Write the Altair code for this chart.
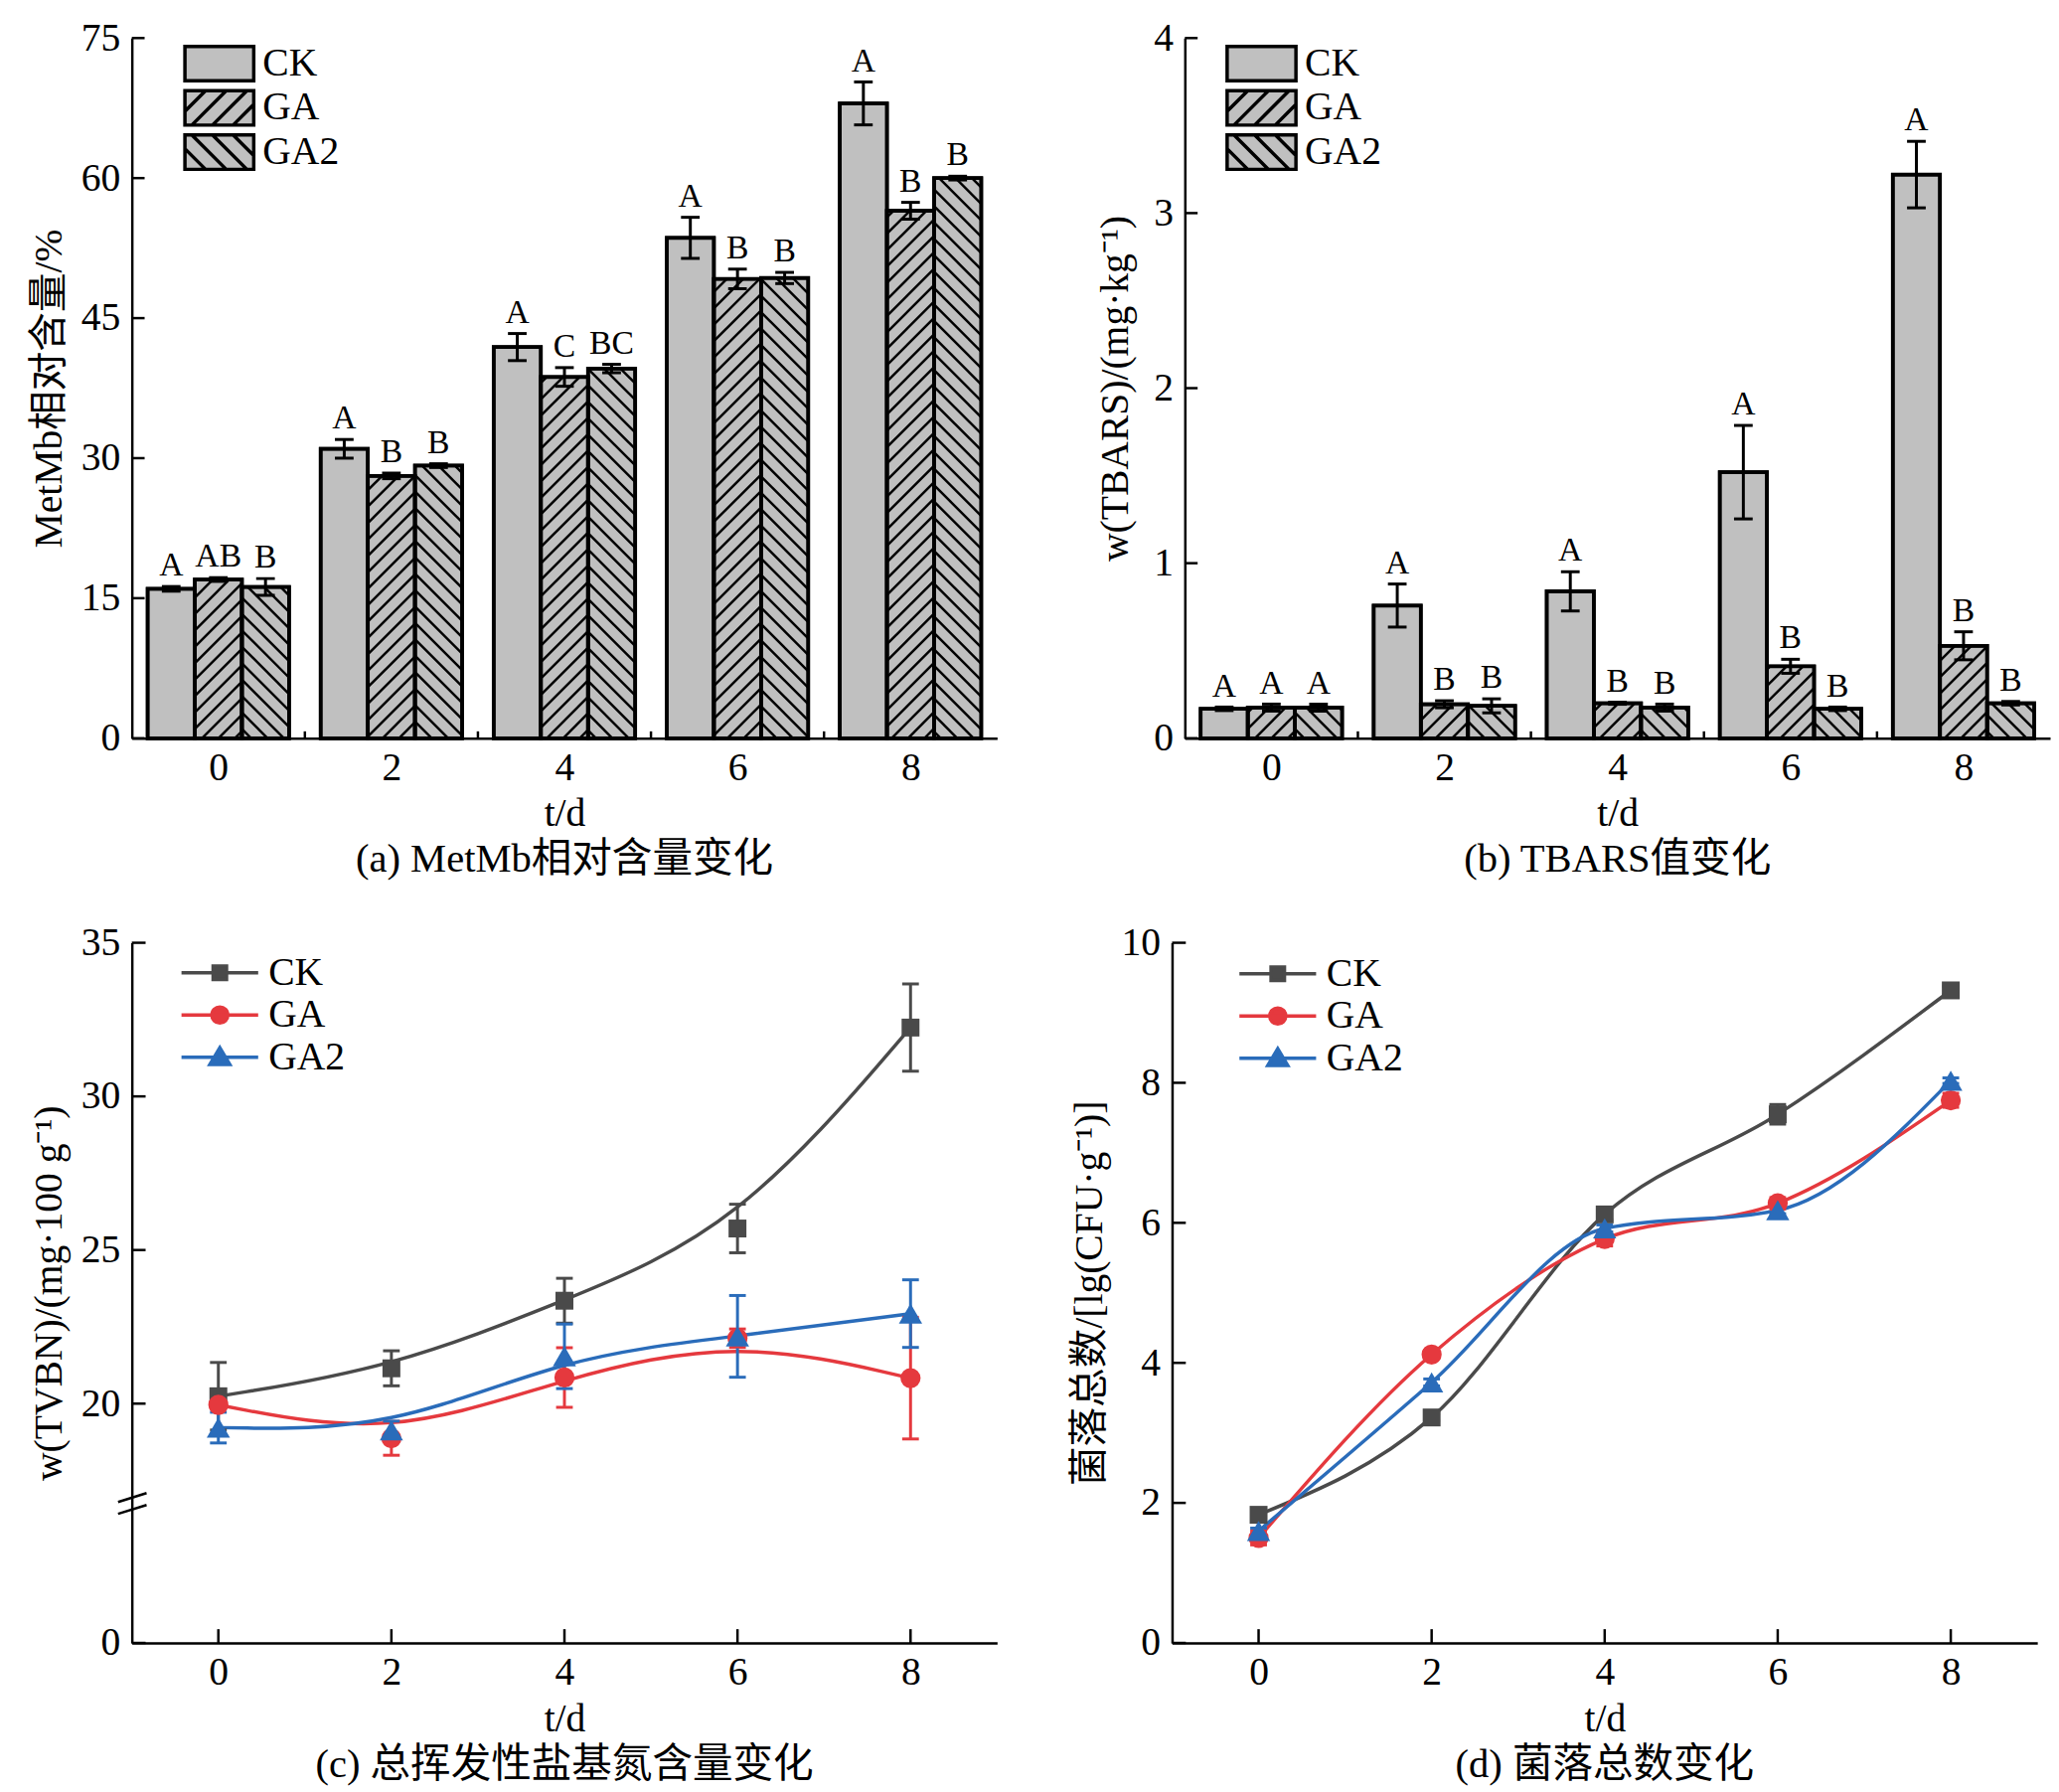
import altair as alt
import pandas as pd
import numpy as np

# ---------------- data ----------------
days = [0, 2, 4, 6, 8]
groups = ["CK", "GA", "GA2"]

# (a) MetMb relative content (%)
metmb_ck = [16.0, 31.0, 41.9, 53.6, 68.0]
metmb_ga = [17.0, 28.1, 38.7, 49.2, 56.5]
metmb_ga2 = [16.2, 29.2, 39.6, 49.3, 60.0]
metmb_ck_err = [0.25, 1.0, 1.45, 2.2, 2.3]
metmb_ga_err = [0.2, 0.3, 1.0, 1.05, 0.9]
metmb_ga2_err = [0.9, 0.2, 0.45, 0.6, 0.2]
metmb_ck_sig = ["A", "A", "A", "A", "A"]
metmb_ga_sig = ["AB", "B", "C", "B", "B"]
metmb_ga2_sig = ["B", "B", "BC", "B", "B"]

# (b) TBARS (mg/kg)
tbars_ck = [0.168, 0.758, 0.839, 1.52, 3.22]
tbars_ga = [0.175, 0.194, 0.20, 0.411, 0.528]
tbars_ga2 = [0.175, 0.185, 0.175, 0.168, 0.20]
tbars_ck_err = [0.01, 0.123, 0.112, 0.267, 0.19]
tbars_ga_err = [0.02, 0.02, 0.006, 0.04, 0.08]
tbars_ga2_err = [0.02, 0.04, 0.02, 0.01, 0.01]
tbars_ck_sig = ["A", "A", "A", "A", "A"]
tbars_ga_sig = ["A", "B", "B", "B", "B"]
tbars_ga2_sig = ["A", "B", "B", "B", "B"]

# (c) TVB-N (mg/100 g)
tvbn_ck = [20.24, 21.15, 23.35, 25.7, 32.24]
tvbn_ga = [19.96, 18.87, 20.85, 22.13, 20.83]
tvbn_ga2 = [19.22, 19.13, 21.54, 22.19, 22.93]
tvbn_ck_err = [1.1, 0.57, 0.73, 0.79, 1.42]
tvbn_ga_err = [0.12, 0.55, 0.97, 0.3, 1.98]
tvbn_ga2_err = [0.5, 0.3, 1.05, 1.33, 1.1]

# (d) total colony count lg(CFU/g)
tvc_ck = [1.83, 3.22, 6.12, 7.55, 9.32]
tvc_ga = [1.5, 4.12, 5.77, 6.28, 7.75]
tvc_ga2 = [1.6, 3.72, 5.92, 6.18, 8.03]
tvc_ck_err = [0.05, 0.05, 0.08, 0.14, 0.06]
tvc_ga_err = [0.1, 0.06, 0.1, 0.08, 0.1]
tvc_ga2_err = [0.04, 0.05, 0.05, 0.05, 0.04]

# ---------------- style ----------------
FONT = "Liberation Serif, Noto Sans CJK SC"
W, H = 880, 712
GRAY = "#c0c0c0"
BW = 0.545
XDOM = [-1, 9]
PXX = W / (XDOM[1] - XDOM[0])
HATCH_S = 16.7
LINE_COLORS = ["#4a4a4a", "#e5393e", "#2a6cba"]
MARKERS = ["square", "circle", "triangle-up"]
MARKER_SIZES = [330, 420, 560]


def fmt(v):
    return f"{v:.3f}".rstrip("0").rstrip(".")


def hatch_path(direction):
    p = "M-2,-1H2V1H-2Z"
    for c in [-1.8, -0.6, 0.6, 1.8]:
        lo, hi = max(-2, c - 1), min(2, c + 1)
        if direction == "/":
            p += f"M{fmt(lo)},{fmt(c - lo)}L{fmt(hi)},{fmt(c - hi)}"
        else:
            p += f"M{fmt(lo)},{fmt(lo - c)}L{fmt(hi)},{fmt(hi - c)}"
    return p


BAR_PATHS = ["M-2,-1H2V1H-2Z", hatch_path("/"), hatch_path("\\")]
LINE_PATHS = [
    "M-2,0H2M-0.35,-0.35H0.35V0.35H-0.35Z",
    "M-2,0H2M0.42,0A0.42,0.42,0,1,1,-0.42,0A0.42,0.42,0,1,1,0.42,0Z",
    "M-2,0H2M0,-0.5L0.52,0.37L-0.52,0.37Z",
]


def hatch_segments(xl, xr, v, pxy, direction):
    Xl, Xr, Hb = xl * PXX, xr * PXX, v * pxy
    segs = []
    if direction == "/":
        kmin = int(np.floor(-Xr / HATCH_S)) - 1
        kmax = int(np.ceil((Hb - Xl) / HATCH_S)) + 1
        for k in range(kmin, kmax + 1):
            c = k * HATCH_S
            lo, hi = max(Xl, -c), min(Xr, Hb - c)
            if hi - lo > 1.5:
                segs.append((lo / PXX, (lo + c) / pxy, hi / PXX, (hi + c) / pxy))
    else:
        kmin = int(np.floor(Xl / HATCH_S)) - 1
        kmax = int(np.ceil((Xr + Hb) / HATCH_S)) + 1
        for k in range(kmin, kmax + 1):
            c = k * HATCH_S
            lo, hi = max(Xl, c - Hb), min(Xr, c)
            if hi - lo > 1.5:
                segs.append((lo / PXX, (c - lo) / pxy, hi / PXX, (c - hi) / pxy))
    return segs


def y_axis(values, title, tpad=14):
    return alt.Axis(values=values, ticks=False, tickSize=0, grid=False, title=title,
                    domainColor="black", domainWidth=2.5, labelFontSize=40,
                    labelPadding=12, labelColor="black", titleFontSize=40,
                    titleFontWeight="normal", titlePadding=tpad, titleColor="black")


def x_axis(values):
    return alt.Axis(values=values, ticks=False, tickSize=0, grid=False, title="t/d",
                    domainColor="black", domainWidth=2.5, labelFontSize=40, labelPadding=10,
                    labelColor="black", titleFontSize=40, titleFontWeight="normal",
                    titlePadding=7, titleColor="black", labelFlush=False)


def caption(text):
    return alt.TitleParams(text, orient="bottom", fontSize=41, fontWeight="normal",
                           font=FONT, color="black", offset=7, anchor="middle", frame="group")


def make_legend(lx, ly, size, row_pad, label_off):
    return alt.Legend(title=None, orient="none", legendX=lx, legendY=ly,
                      labelFont=FONT, labelFontSize=40, labelColor="black",
                      symbolSize=size, symbolStrokeWidth=3.5, symbolOpacity=1,
                      rowPadding=row_pad, labelOffset=label_off, padding=0)


def bar_panel(vals, errs, sigs, ymax, yvals, ytitle, cap, legend_x, legend_y, tpad):
    pxy = H / ymax
    rows, hrows = [], []
    for gi, g in enumerate(groups):
        for di, d in enumerate(days):
            xc = d + (gi - 1) * BW
            v = vals[gi][di]
            e = errs[gi][di]
            rows.append(dict(group=g, day=d, x0=xc - BW / 2, x1=xc + BW / 2, xc=xc,
                             v=v, lo=v - e, hi=v + e, sig=sigs[gi][di]))
            if gi > 0:
                for s in hatch_segments(xc - BW / 2, xc + BW / 2, v, pxy, "/" if gi == 1 else "\\"):
                    hrows.append(dict(hx1=s[0], hy1=s[1], hx2=s[2], hy2=s[3]))
    df = pd.DataFrame(rows)
    hdf = pd.DataFrame(hrows)
    xs = alt.Scale(domain=XDOM, nice=False, zero=False)
    ys = alt.Scale(domain=[0, ymax], nice=False)
    XA = x_axis(days)
    YA = y_axis(yvals, ytitle, tpad)

    def X(f, **kw):
        return alt.X(f, axis=XA, **kw)

    def Y(f, **kw):
        return alt.Y(f, axis=YA, **kw)

    base = alt.Chart(df)
    bars = base.mark_rect(fill=GRAY, stroke="black", strokeWidth=3.5).encode(
        x=X("x0:Q", scale=xs), x2="x1:Q", y=Y("v:Q", scale=ys), y2=alt.datum(0))
    hatch = alt.Chart(hdf).mark_rule(color="black", strokeWidth=2.5).encode(
        x=X("hx1:Q"), y=Y("hy1:Q"), x2="hx2:Q", y2="hy2:Q")
    outline = base.mark_rect(fillOpacity=0, stroke="black", strokeWidth=3.8).encode(
        x=X("x0:Q"), x2="x1:Q", y=Y("v:Q"), y2=alt.datum(0))
    err = base.mark_rule(color="black", strokeWidth=3).encode(
        x=X("xc:Q"), y=Y("lo:Q"), y2="hi:Q")
    cap_lo = base.mark_tick(orient="horizontal", size=19, thickness=3, color="black", opacity=1).encode(
        x=X("xc:Q"), y=Y("lo:Q"))
    cap_hi = base.mark_tick(orient="horizontal", size=19, thickness=3, color="black", opacity=1).encode(
        x=X("xc:Q"), y=Y("hi:Q"))
    letters = base.mark_text(baseline="bottom", dy=-4, fontSize=34, font=FONT, color="black").encode(
        x=X("xc:Q"), y=Y("hi:Q"), text="sig:N")
    ytick = alt.Chart(pd.DataFrame({"t": yvals})).mark_rule(color="black", strokeWidth=2.5).encode(
        y=Y("t:Q"), x=alt.value(0), x2=alt.value(13))
    xtick = alt.Chart(pd.DataFrame({"t": [1, 3, 5, 7]})).mark_rule(color="black", strokeWidth=2.5).encode(
        x=X("t:Q"), y=alt.value(H), y2=alt.value(H - 7))
    lg = make_legend(legend_x, legend_y, 1225, -8, 24)
    leg = base.mark_point(filled=True, opacity=0).encode(
        x=X("xc:Q"), y=Y("v:Q"),
        fill=alt.Fill("group:N", scale=alt.Scale(domain=groups, range=[GRAY] * 3), legend=lg),
        stroke=alt.Stroke("group:N", scale=alt.Scale(domain=groups, range=["black"] * 3), legend=lg),
        shape=alt.Shape("group:N", scale=alt.Scale(domain=groups, range=BAR_PATHS), legend=lg))
    return alt.layer(bars, hatch, outline, err, cap_lo, cap_hi, letters, ytick, xtick, leg).properties(
        width=W, height=H, title=caption(cap))


def line_panel(vals, errs, yscale, yvals, ytitle, cap, interp, legend_x, legend_y, tpad, brk=False):
    rows = []
    for gi, g in enumerate(groups):
        for di, d in enumerate(days):
            v, e = vals[gi][di], errs[gi][di]
            rows.append(dict(group=g, day=d, v=v, lo=v - e, hi=v + e))
    df = pd.DataFrame(rows)
    base = alt.Chart(df)
    xs = alt.Scale(domain=XDOM, nice=False, zero=False)
    XA = x_axis(days)
    YA = y_axis(yvals, ytitle, tpad)

    def X(f, **kw):
        return alt.X(f, axis=XA, **kw)

    def Y(f, **kw):
        return alt.Y(f, axis=YA, **kw)

    layers = []
    for gi, g in enumerate(groups):
        col = LINE_COLORS[gi]
        gb = base.transform_filter(alt.datum.group == g)
        if gi == 0:
            layers.append(gb.mark_line(interpolate=interp, strokeWidth=3.5, color=col).encode(
                x=X("day:Q", scale=xs), y=Y("v:Q", scale=yscale)))
        else:
            layers.append(gb.mark_line(interpolate=interp, strokeWidth=3.5, color=col).encode(
                x=X("day:Q"), y=Y("v:Q")))
    for gi, g in enumerate(groups):
        col = LINE_COLORS[gi]
        gb = base.transform_filter(alt.datum.group == g)
        layers.append(gb.mark_rule(strokeWidth=3, color=col).encode(
            x=X("day:Q"), y=Y("lo:Q"), y2="hi:Q"))
        layers.append(gb.mark_tick(orient="horizontal", size=17, thickness=3, opacity=1, color=col).encode(
            x=X("day:Q"), y=Y("lo:Q")))
        layers.append(gb.mark_tick(orient="horizontal", size=17, thickness=3, opacity=1, color=col).encode(
            x=X("day:Q"), y=Y("hi:Q")))
    for gi, g in enumerate(groups):
        gb = base.transform_filter(alt.datum.group == g)
        layers.append(gb.mark_point(filled=True, shape=MARKERS[gi], size=MARKER_SIZES[gi],
                                    opacity=1, color=LINE_COLORS[gi]).encode(
            x=X("day:Q"), y=Y("v:Q")))
    lg = make_legend(legend_x, legend_y, 1521, 1, 28)
    layers.append(base.mark_point(filled=True, opacity=0).encode(
        x=X("day:Q"), y=Y("v:Q"),
        fill=alt.Fill("group:N", scale=alt.Scale(domain=groups, range=LINE_COLORS), legend=lg),
        stroke=alt.Stroke("group:N", scale=alt.Scale(domain=groups, range=LINE_COLORS), legend=lg),
        shape=alt.Shape("group:N", scale=alt.Scale(domain=groups, range=LINE_PATHS), legend=lg)))
    layers.append(alt.Chart(pd.DataFrame({"t": yvals})).mark_rule(color="black", strokeWidth=2.5).encode(
        y=Y("t:Q"), x=alt.value(0), x2=alt.value(14)))
    layers.append(alt.Chart(pd.DataFrame({"t": days})).mark_rule(color="black", strokeWidth=2.5).encode(
        x=X("t:Q"), y=alt.value(H), y2=alt.value(H - 14)))
    if brk:
        one = alt.Chart(pd.DataFrame({"k": [0]}))
        b1 = H * 561 / 708
        b2 = H * 573 / 708
        layers.append(one.mark_rule(color="black", strokeWidth=2.5).encode(
            x=alt.value(-14), x2=alt.value(15), y=alt.value(b1 + 4.5), y2=alt.value(b1 - 4.5)))
        layers.append(one.mark_rule(color="black", strokeWidth=2.5).encode(
            x=alt.value(-14), x2=alt.value(15), y=alt.value(b2 + 4.5), y2=alt.value(b2 - 4.5)))
    return alt.layer(*layers).properties(width=W, height=H, title=caption(cap))


pa = bar_panel([metmb_ck, metmb_ga, metmb_ga2], [metmb_ck_err, metmb_ga_err, metmb_ga2_err],
               [metmb_ck_sig, metmb_ga_sig, metmb_ga2_sig], 75, [0, 15, 30, 45, 60, 75],
               "MetMb相对含量/%", "(a) MetMb相对含量变化", 69, 6, 12)
pb = bar_panel([tbars_ck, tbars_ga, tbars_ga2], [tbars_ck_err, tbars_ga_err, tbars_ga2_err],
               [tbars_ck_sig, tbars_ga_sig, tbars_ga2_sig], 4, [0, 1, 2, 3, 4],
               "w(TBARS)/(mg·kg⁻¹)", "(b) TBARS值变化", 58, 6, 18)

c_scale = alt.Scale(domain=[0, 16.75, 35], range=[H, H * 567 / 708, 0], nice=False, zero=False)
pc = line_panel([tvbn_ck, tvbn_ga, tvbn_ga2], [tvbn_ck_err, tvbn_ga_err, tvbn_ga2_err],
                c_scale, [0, 20, 25, 30, 35], "w(TVBN)/(mg·100 g⁻¹)", "(c) 总挥发性盐基氮含量变化",
                "basis", 68, 9, 12, brk=True)
d_scale = alt.Scale(domain=[0, 10], nice=False)
pd_ = line_panel([tvc_ck, tvc_ga, tvc_ga2], [tvc_ck_err, tvc_ga_err, tvc_ga2_err],
                 d_scale, [0, 2, 4, 6, 8, 10], "菌落总数/[lg(CFU·g⁻¹)]", "(d) 菌落总数变化",
                 "monotone", 86, 10, 12)

IND = dict(shape="independent", stroke="independent", fill="independent")
row1 = alt.hconcat(pa, pb, spacing=99).resolve_scale(**IND).resolve_legend(**IND)
row2 = alt.hconcat(pc, pd_, spacing=72).resolve_scale(**IND).resolve_legend(**IND)
chart = alt.vconcat(row1, row2, spacing=42).resolve_scale(**IND).resolve_legend(**IND).properties(
    padding={"left": 21, "top": 0, "right": 0, "bottom": 0}
).configure_view(stroke="transparent").configure_axis(
    labelFont=FONT, titleFont=FONT
).configure_legend(labelFont=FONT).configure_title(font=FONT).configure_text(font=FONT)

chart.save("out.html", embed_options={"renderer": "svg", "actions": False})
